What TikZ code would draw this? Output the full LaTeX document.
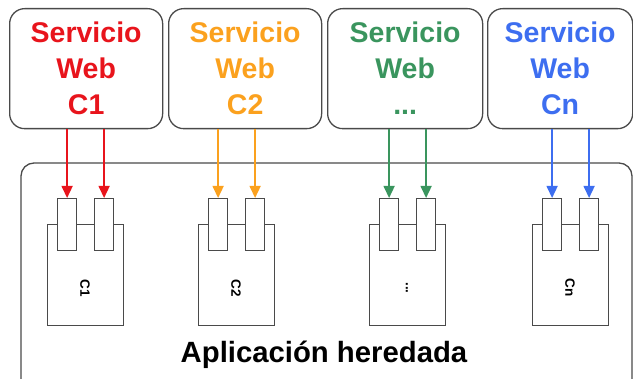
\documentclass[tikz,border=0pt]{standalone}
\usepackage{fontspec}
\setmainfont{Liberation Sans}
\usetikzlibrary{arrows.meta}
\definecolor{cred}{HTML}{E8141C}
\definecolor{corange}{HTML}{FBA11E}
\definecolor{cgreen}{HTML}{3A955E}
\definecolor{cblue}{HTML}{3D6EF0}
\definecolor{edge}{HTML}{4A4A4A}
\newcommand\mydots{...}
\tikzset{
  svcbox/.style={draw=edge, line width=1.3pt, rounded corners=15pt, anchor=north west,
     minimum height=120pt, inner sep=0pt, align=center,
     font=\fontsize{28.5}{36}\selectfont\bfseries},
  body/.style={draw=edge, line width=1.2pt, fill=white, anchor=north west,
     minimum width=76pt, minimum height=101pt, inner sep=0pt},
  port/.style={draw=edge, line width=1.2pt, fill=white, anchor=north west,
     minimum width=19pt, minimum height=52pt, inner sep=0pt},
  clabel/.style={rotate=-90, font=\fontsize{13.5}{15}\selectfont\bfseries},
  flow/.style={line width=1.5pt, -{Triangle[length=12pt,width=11pt]}}
}
\begin{document}
\begin{tikzpicture}[x=1pt,y=-1pt]
\useasboundingbox (0,0) rectangle (633,379);
\clip (0,0) rectangle (633,379);
% application container
\draw[draw=edge, line width=1.3pt, rounded corners=13pt] (21,163) rectangle (632,400);
\node[font=\fontsize{29.3}{34}\selectfont\bfseries, anchor=base] (app) at (324,362.5) {Aplicación heredada};
% service boxes
\node[svcbox, minimum width=153pt, text=cred] (s1) at (9,8) {Servicio\\Web\\C1};
\node[svcbox, minimum width=153pt, text=corange] (s2) at (168,8) {Servicio\\Web\\C2};
\node[svcbox, minimum width=155pt, text=cgreen] (s3) at (327,8) {Servicio\\Web\\...};
\node[svcbox, minimum width=145pt, text=cblue] (s4) at (487,8) {Servicio\\Web\\Cn};
% components
\foreach \i/\x/\lab/\col in {1/47/C1/cred, 2/198/C2/corange, 3/369/\mydots/cgreen, 4/532/Cn/cblue}{
  \node[body] (b\i) at (\x,224) {};
  \node[port] (p\i a) at (\x+10,198) {};
  \node[port] (p\i b) at (\x+47,198) {};
  \node[clabel] (l\i) at (\x+38,288) {\lab};
  \draw[flow, \col] (p\i a.north |- s\i.south) -- (p\i a.north);
  \draw[flow, \col] (p\i b.north |- s\i.south) -- (p\i b.north);
}
\end{tikzpicture}
\end{document}
